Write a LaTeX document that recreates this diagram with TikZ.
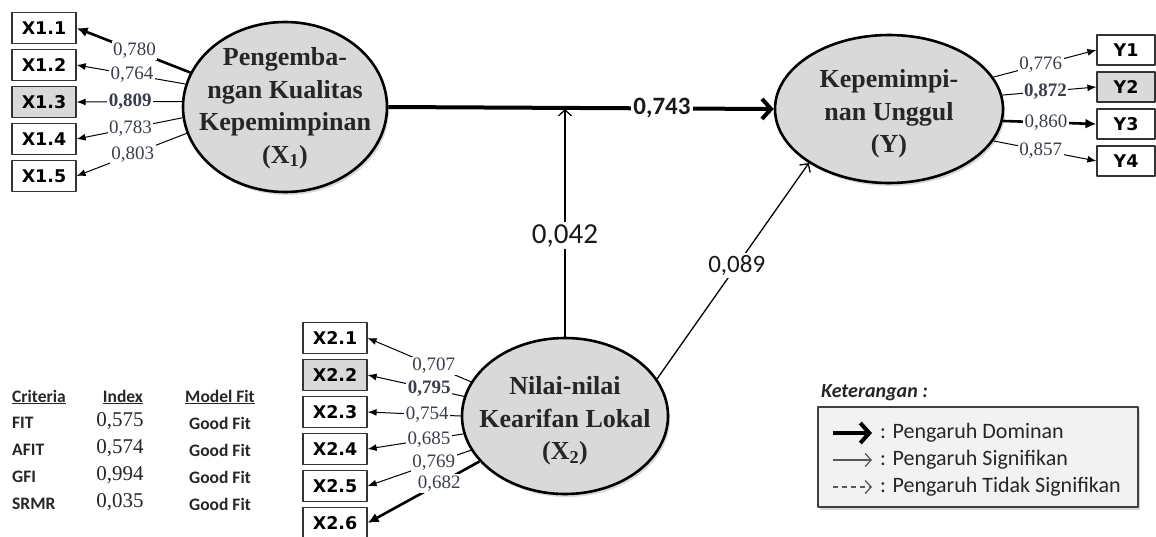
\documentclass[tikz,border=0pt]{standalone}
\usepackage{fontspec}
\setmainfont{Liberation Serif}
\newfontfamily\boxfont{DejaVu Sans}
\newfontfamily\calfont{Carlito}
\usetikzlibrary{arrows.meta,shapes.geometric,shadows}
\definecolor{lvgray}{HTML}{D9D9D9}
\definecolor{labcol}{HTML}{3B3F4C}
\definecolor{leggray}{HTML}{F2F2F2}
\tikzset{
  lv/.style={ellipse, draw, line width=2.6pt, fill=lvgray, inner sep=0pt,
    drop shadow={shadow xshift=2pt, shadow yshift=-3pt, opacity=0.3}},
  lvtxt/.style={align=center, text=black!85, font=\fontsize{26}{32.5}\selectfont\bfseries},
  ind/.style={draw=black!80, line width=1.2pt, fill=white, minimum width=64pt, minimum height=31pt,
    inner sep=0pt, font=\boxfont\fontsize{17.5}{19}\selectfont\bfseries},
  indg/.style={ind, fill=lvgray},
  ld/.style={line width=1pt, -{Latex[length=9pt,width=7pt]}},
  ldk/.style={line width=2.6pt, -{Latex[length=11pt,width=10pt]}},
  lab/.style={fill=white, inner sep=1.5pt, text=labcol, font=\fontsize{19}{20}\selectfont},
  labb/.style={lab, font=\fontsize{19}{20}\selectfont\bfseries},
  dom/.style={line width=4pt, -{Straight Barb[length=9pt,width=20pt]}},
  sig/.style={line width=1.3pt, -{Straight Barb[length=6pt,width=13pt]}},
  nsig/.style={sig, dash pattern=on 5pt off 4pt},
  pathlab/.style={fill=white, inner sep=2pt, text=black!90, font=\calfont\fontsize{25}{28}\selectfont},
  tabh/.style={inner sep=0pt, text=black!85, font=\calfont\fontsize{17.5}{20}\selectfont\bfseries},
  tabv/.style={inner sep=0pt, text=black!85, font=\fontsize{21}{22}\selectfont},
  legbox/.style={draw=black!75, line width=1.2pt, fill=leggray, minimum width=320pt, minimum height=100pt,
    drop shadow={shadow xshift=2pt, shadow yshift=-3pt, opacity=0.3}},
  legtxt/.style={inner sep=3pt, text=black!85, font=\calfont\fontsize{22}{24}\selectfont},
}
\begin{document}
\begin{tikzpicture}[x=1pt, y=-1pt, line join=round]
\useasboundingbox (0,0) rectangle (1156,536);
% --- latent variables
\node[lv, minimum width=204pt, minimum height=170pt] (X1) at (285,107) {};
\node[lvtxt] (X1t) at (285,108) {Pengemba-\\ngan Kualitas\\Kepemimpinan\\(X\textsubscript{1})};
\node[lv, minimum width=228pt, minimum height=148pt] (Y) at (889,109) {};
\node[lvtxt] (Yt) at (889,114) {Kepemimpi-\\nan Unggul\\(Y)};
\node[lv, minimum width=206pt, minimum height=156pt] (X2) at (565,416) {};
\node[lvtxt] (X2t) at (565,421) {Nilai-nilai\\Kearifan Lokal\\(X\textsubscript{2})};
% --- indicators
\node[ind] (x11) at (44,28) {X1.1};
\node[ind] (x12) at (44,65) {X1.2};
\node[indg] (x13) at (44,102) {X1.3};
\node[ind] (x14) at (44,139) {X1.4};
\node[ind] (x15) at (44,176) {X1.5};
\node[ind, minimum width=58pt, minimum height=30pt] (y1) at (1126,50) {Y1};
\node[indg, minimum width=58pt, minimum height=30pt] (y2) at (1126,87) {Y2};
\node[ind, minimum width=58pt, minimum height=30pt] (y3) at (1126,124) {Y3};
\node[ind, minimum width=58pt, minimum height=30pt] (y4) at (1126,161) {Y4};
\node[ind] (x21) at (335,338) {X2.1};
\node[indg] (x22) at (335,375) {X2.2};
\node[ind] (x23) at (335,412) {X2.3};
\node[ind] (x24) at (335,449) {X2.4};
\node[ind] (x25) at (335,486) {X2.5};
\node[ind] (x26) at (335,523) {X2.6};
% --- loadings
\draw[ldk] (X1.160) -- node[lab, pos=0.49] (l11) {0,780} (x11.east);
\draw[ld] (X1.167) -- node[lab, pos=0.49] (l12) {0,764} (x12.east);
\draw[ld] (X1.177) -- node[labb, pos=0.49] (l13) {0,809} (x13.east);
\draw[ld] (X1.186) -- node[lab, pos=0.49] (l14) {0,783} (x14.east);
\draw[ld] (X1.195) -- node[lab, pos=0.49] (l15) {0,803} (x15.east);
\draw[ld] (Y.17) -- node[lab, pos=0.46] (ly1) {0,776} (y1.west);
\draw[ld] (Y.7) -- node[labb, pos=0.46] (ly2) {0,872} (y2.west);
\draw[ldk] (Y.-6) -- node[lab, pos=0.46] (ly3) {0,860} (y3.west);
\draw[ld] (Y.-17) -- node[lab, pos=0.46] (ly4) {0,857} (y4.west);
\draw[ld] (X2.160) -- node[lab, pos=0.36] (l21) {0,707} (x21.east);
\draw[ld] (X2.169) -- node[labb, pos=0.36] (l22) {0,795} (x22.east);
\draw[ld] (X2.180) -- node[lab, pos=0.36] (l23) {0,754} (x23.east);
\draw[ld] (X2.190) -- node[lab, pos=0.36] (l24) {0,685} (x24.east);
\draw[ld] (X2.200) -- node[lab, pos=0.36] (l25) {0,769} (x25.east);
\draw[ldk] (X2.208) -- node[lab, pos=0.36] (l26) {0,682} (x26.east);
% --- structural paths
\draw[dom] (X1.east) -- node[pathlab, pos=0.71, font=\calfont\fontsize{25}{28}\selectfont\bfseries] (p1) {0,743} (Y.west);
\coordinate (mid) at (X2.north |- X1.east);
\draw[sig, shorten >=2pt] (X2.north) -- node[pathlab, pos=0.44, font=\calfont\fontsize{29}{32}\selectfont] (p2) {0,042} (mid);
\draw[sig] (X2.22) -- node[pathlab, pos=0.525] (p3) {0,089} (Y.214);
% --- fit table
\node[tabh, anchor=west] (hcr) at (12,397) {\underline{Criteria}};
\node[tabh] (hix) at (123,397) {\underline{Index}};
\node[tabh] (hmf) at (220,397) {\underline{Model Fit}};
\node[tabh, anchor=west] (c1) at (12,423) {FIT};
\node[tabv] (v1) at (120,421) {0,575};
\node[tabh] (f1) at (220,423) {Good Fit};
\node[tabh, anchor=west] (c2) at (12,450) {AFIT};
\node[tabv] (v2) at (120,448) {0,574};
\node[tabh] (f2) at (220,450) {Good Fit};
\node[tabh, anchor=west] (c3) at (12,477) {GFI};
\node[tabv] (v3) at (120,475) {0,994};
\node[tabh] (f3) at (220,477) {Good Fit};
\node[tabh, anchor=west] (c4) at (12,504) {SRMR};
\node[tabv] (v4) at (120,502) {0,035};
\node[tabh] (f4) at (220,504) {Good Fit};
% --- legend
\node[legtxt, anchor=west, font=\calfont\fontsize{20}{24}\selectfont\bfseries\itshape] (ket) at (818,393) {Keterangan :};
\node[legbox] (leg) at (978,457) {};
\node[legtxt, anchor=west] (lg1) at (877,433) {: Pengaruh Dominan};
\node[legtxt, anchor=west] (lg2) at (877,460) {: Pengaruh Signifikan};
\node[legtxt, anchor=west] (lg3) at (877,487) {: Pengaruh Tidak Signifikan};
\coordinate (a1) at (833,433);
\coordinate (a2) at (833,460);
\coordinate (a3) at (833,487);
\draw[dom, shorten >=5pt] (a1) -- (lg1.west);
\draw[sig, black!65, shorten >=5pt] (a2) -- (lg2.west);
\draw[nsig, black!65, shorten >=5pt] (a3) -- (lg3.west);
\end{tikzpicture}
\end{document}
